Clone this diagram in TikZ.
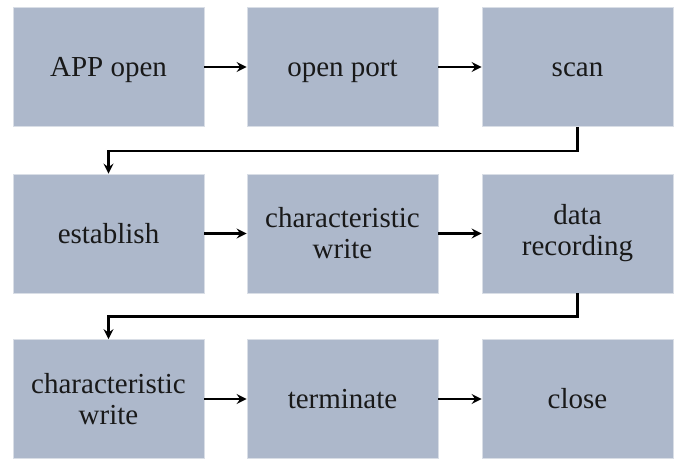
\documentclass[tikz,border=0pt]{standalone}
\usepackage{fontspec}
\setmainfont{Liberation Serif}
\usetikzlibrary{arrows.meta}
\definecolor{boxfill}{HTML}{ADB8CB}
\definecolor{boxedge}{HTML}{D9DEE6}
\begin{document}
\begin{tikzpicture}[x=1pt,y=-1pt,
  stepbox/.style={draw=boxedge,line width=0.8pt,fill=boxfill,minimum width=191pt,minimum height=119pt,
    inner sep=0pt,align=center,font=\fontsize{29}{31}\selectfont,text=black!90},
  oneline/.style={stepbox,text height=19pt,text depth=0pt},
  flow/.style={line width=2.6pt,-{Stealth[length=10pt,width=10pt,inset=3.5pt]}}]
\useasboundingbox (0,0) rectangle (680,459);
\node[oneline] (a1) at (108.5,67) {APP open};
\node[oneline] (a2) at (342.5,67) {open port};
\node[oneline] (a3) at (577.5,67) {scan};
\node[oneline] (b1) at (108.5,233.5) {establish};
\node[stepbox] (b2) at (342.5,233.5) {characteristic\\write};
\node[stepbox] (b3) at (577.5,233.5) {data\\recording};
\node[stepbox] (c1) at (108.5,399) {characteristic\\write};
\node[oneline] (c2) at (342.5,399) {terminate};
\node[oneline] (c3) at (577.5,399) {close};
\draw[flow] (a1) -- (a2);
\draw[flow] (a2) -- (a3);
\draw[flow] (b1) -- (b2);
\draw[flow] (b2) -- (b3);
\draw[flow] (c1) -- (c2);
\draw[flow] (c2) -- (c3);
\draw[flow] (a3.south) -- ++(0,24) -| (b1.north);
\draw[flow] (b3.south) -- ++(0,23) -| (c1.north);
\end{tikzpicture}
\end{document}
